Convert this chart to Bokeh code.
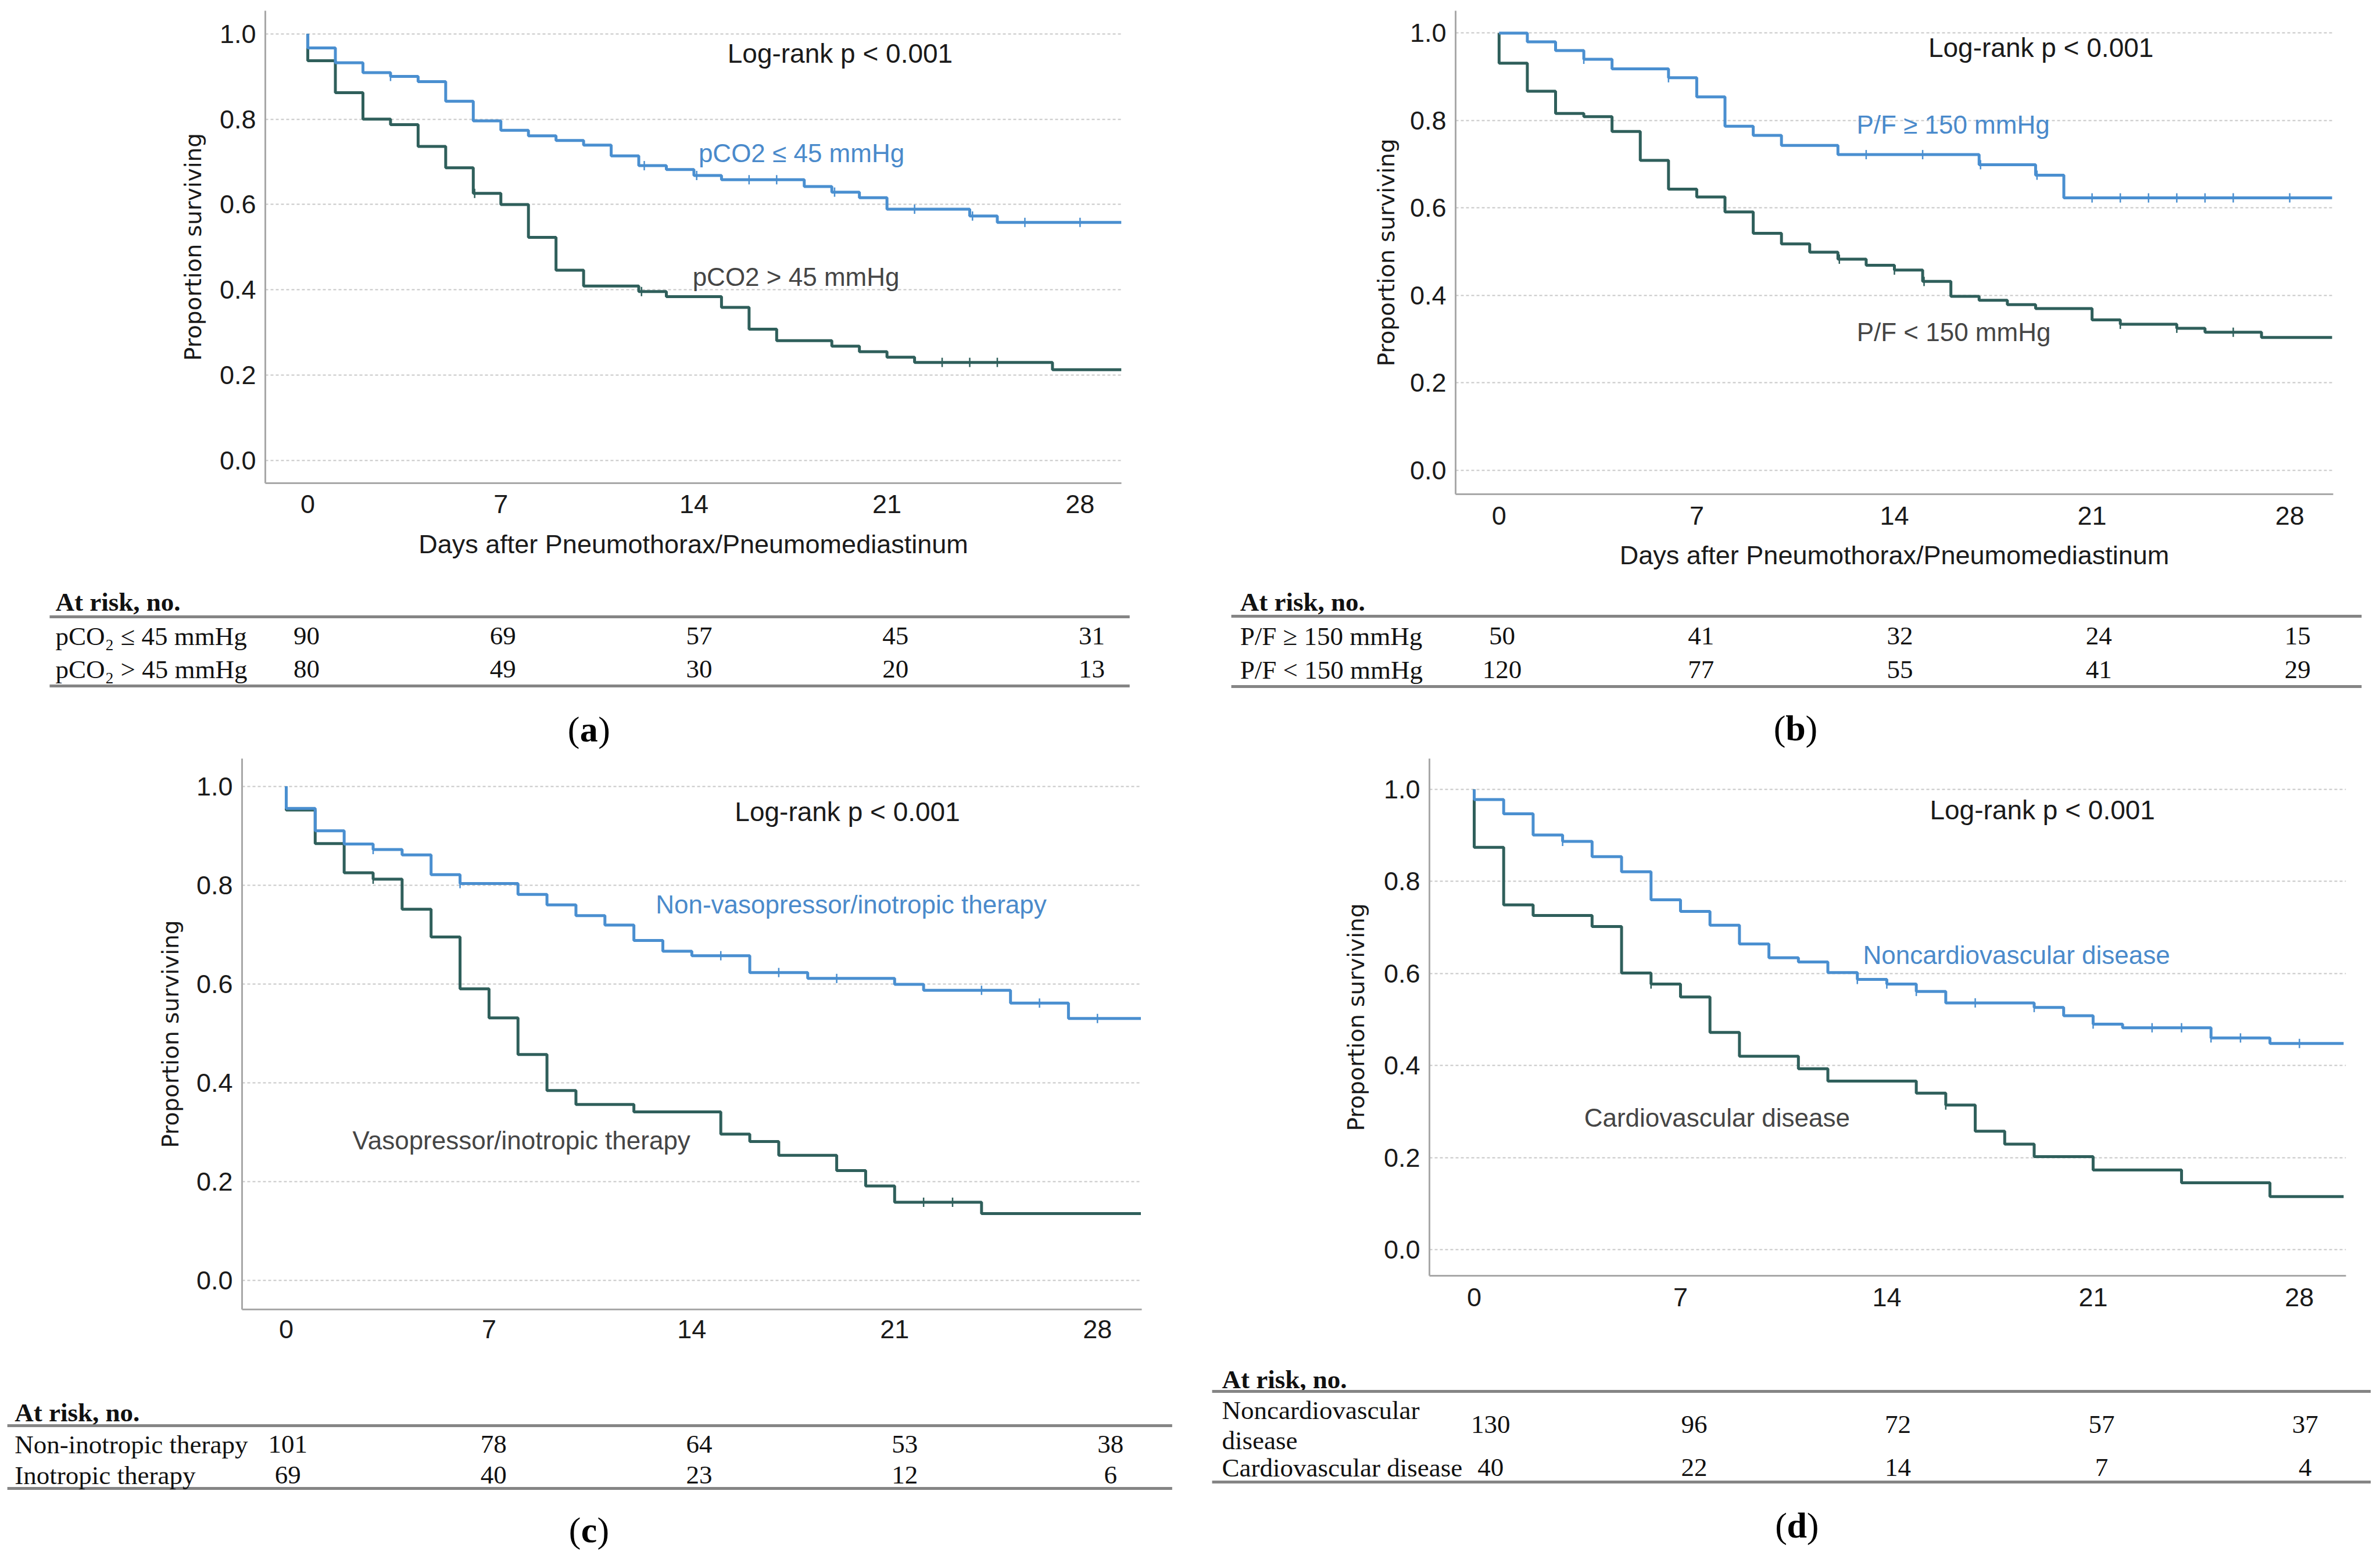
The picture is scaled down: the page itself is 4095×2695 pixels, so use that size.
import math
from bokeh.plotting import figure
from bokeh.models import Range1d, FixedTicker, PrintfTickFormatter
from bokeh.layouts import row, column
from bokeh.core.properties import value
from bokeh.embed import file_html
from bokeh.resources import INLINE

# ---------------- data ----------------
x_ticks = [0, 7, 14, 21, 28]
y_ticks = [0.0, 0.2, 0.4, 0.6, 0.8, 1.0]
risk_days = [0, 7, 14, 21, 28]

# (a) pCO2
a_hi_t = [0, 0, 1, 2, 3, 4, 5, 6, 7, 8, 9, 10, 11, 12, 13, 14, 15, 18, 19, 20, 21, 24, 25, 29.5]
a_hi_s = [1.0, 0.967, 0.932, 0.909, 0.900, 0.888, 0.842, 0.796, 0.774, 0.761, 0.750, 0.739, 0.714,
          0.691, 0.682, 0.668, 0.658, 0.642, 0.629, 0.616, 0.589, 0.573, 0.558, 0.558]
a_hi_cens = [3.0, 12.2, 14.1, 16, 17, 19.1, 22, 24.1, 26, 28]
a_lo_t = [0, 0, 1, 2, 3, 4, 5, 6, 7, 8, 9, 10, 12, 13, 15, 16, 17, 19, 20, 21, 22, 27, 29.5]
a_lo_s = [1.0, 0.937, 0.862, 0.800, 0.787, 0.736, 0.686, 0.626, 0.600, 0.523, 0.446, 0.409, 0.396,
          0.384, 0.359, 0.308, 0.281, 0.268, 0.255, 0.242, 0.230, 0.213, 0.213]
a_lo_cens = [6.05, 12.1, 23, 24, 25]
a_labels = ["pCO2 \u2264 45 mmHg", "pCO2 > 45 mmHg"]
a_rows = ["pCO\u2082 \u2264 45 mmHg", "pCO\u2082 > 45 mmHg"]
a_risk_hi = [90, 69, 57, 45, 31]
a_risk_lo = [80, 49, 30, 20, 13]

# (b) P/F
b_hi_t = [0, 1, 2, 3, 4, 6, 7, 8, 9, 10, 12, 17, 19, 20, 29.5]
b_hi_s = [1.0, 0.980, 0.960, 0.940, 0.918, 0.898, 0.854, 0.787, 0.766, 0.743, 0.722, 0.699, 0.675, 0.623, 0.623]
b_hi_cens = [3, 6, 13, 15, 17.05, 19.05, 21, 22, 23, 24, 25, 26, 28]
b_lo_t = [0, 0, 1, 2, 3, 4, 5, 6, 7, 8, 9, 10, 11, 12, 13, 14, 15, 16, 17, 18, 19, 21, 22, 24, 25, 27, 29.5]
b_lo_s = [1.0, 0.931, 0.867, 0.816, 0.809, 0.775, 0.709, 0.643, 0.625, 0.591, 0.542, 0.518, 0.499, 0.483,
          0.469, 0.458, 0.432, 0.398, 0.389, 0.379, 0.370, 0.344, 0.334, 0.325, 0.316, 0.304, 0.304]
b_lo_cens = [12.05, 14, 15.05, 22, 24, 26]
b_labels = ["P/F \u2265 150 mmHg", "P/F < 150 mmHg"]
b_rows = ["P/F \u2265 150 mmHg", "P/F < 150 mmHg"]
b_risk_hi = [50, 41, 32, 24, 15]
b_risk_lo = [120, 77, 55, 41, 29]

# (c) vasopressor / inotropic therapy
c_hi_t = [0, 0, 1, 2, 3, 4, 5, 6, 8, 9, 10, 11, 12, 13, 14, 16, 18, 21, 22, 25, 27, 29.5]
c_hi_s = [1.0, 0.955, 0.910, 0.883, 0.872, 0.861, 0.821, 0.803, 0.781, 0.760, 0.738, 0.719, 0.688,
          0.666, 0.657, 0.623, 0.611, 0.599, 0.587, 0.561, 0.530, 0.530]
c_hi_cens = [3, 6, 15, 17, 19, 24, 26, 28]
c_lo_t = [0, 0, 1, 2, 3, 4, 5, 6, 7, 8, 9, 10, 12, 15, 16, 17, 19, 20, 21, 24, 29.5]
c_lo_s = [1.0, 0.952, 0.884, 0.825, 0.812, 0.751, 0.695, 0.590, 0.531, 0.457, 0.384, 0.356, 0.341,
          0.296, 0.281, 0.253, 0.222, 0.191, 0.158, 0.135, 0.135]
c_lo_cens = [3, 22, 23]
c_labels = ["Non-vasopressor/inotropic therapy", "Vasopressor/inotropic therapy"]
c_rows = ["Non-inotropic therapy", "Inotropic therapy"]
c_risk_hi = [101, 78, 64, 53, 38]
c_risk_lo = [69, 40, 23, 12, 6]

# (d) cardiovascular disease
d_hi_t = [0, 0, 1, 2, 3, 4, 5, 6, 7, 8, 9, 10, 11, 12, 13, 14, 15, 16, 19, 20, 21, 22, 25, 27, 29.5]
d_hi_s = [1.0, 0.978, 0.947, 0.901, 0.887, 0.854, 0.821, 0.760, 0.735, 0.705, 0.664, 0.634, 0.625,
          0.602, 0.587, 0.577, 0.561, 0.536, 0.526, 0.508, 0.490, 0.482, 0.460, 0.448, 0.448]
d_hi_cens = [3, 13, 14, 15, 17, 19, 21, 23, 24, 25, 26, 28]
d_lo_t = [0, 0, 1, 2, 4, 5, 6, 7, 8, 9, 11, 12, 15, 16, 17, 18, 19, 21, 24, 27, 29.5]
d_lo_s = [1.0, 0.874, 0.749, 0.726, 0.702, 0.601, 0.577, 0.549, 0.472, 0.420, 0.393, 0.366, 0.340,
          0.314, 0.257, 0.229, 0.202, 0.173, 0.145, 0.115, 0.115]
d_lo_cens = [6, 16]
d_labels = ["Noncardiovascular disease", "Cardiovascular disease"]
d_rows = ["Noncardiovascular", "disease", "Cardiovascular disease"]
d_risk_hi = [130, 96, 72, 57, 37]
d_risk_lo = [40, 22, 14, 7, 4]

logrank = "Log-rank p < 0.001"
x_title = "Days after Pneumothorax/Pneumomediastinum"
y_title = "Proportion surviving"
risk_header = "At risk, no."

# ---------------- style ----------------
BLUE = "#4a8fd0"
DARK = "#2f5f5b"
BLUE_TXT = "#4a8acb"
DARK_TXT = "#454545"
SANS = "Liberation Sans"
SERIF = "Liberation Serif"
TAB_FS = "45px"


def step_at(ts, ss, day):
    v = ss[0]
    for t, s in zip(ts, ss):
        if t <= day:
            v = s
    return v


def km_fig(width, height, borders, xr, yr, xlabel, ylab_stand, xtick_stand, xlab_stand,
           hi, lo, labels, label_pos, lr_pos):
    p = figure(width=width, height=height, x_range=Range1d(*xr), y_range=Range1d(*yr),
               output_backend="svg", toolbar_location=None,
               min_border_left=borders[0], min_border_right=borders[1],
               min_border_top=borders[2], min_border_bottom=borders[3])
    p.outline_line_color = None
    p.background_fill_color = "white"
    p.border_fill_color = "white"
    p.xgrid.visible = False
    p.ygrid.ticker = FixedTicker(ticks=y_ticks)
    p.ygrid.grid_line_color = "#c8c8c8"
    p.ygrid.grid_line_width = 2
    p.ygrid.grid_line_dash = "5 4"
    p.xaxis.ticker = FixedTicker(ticks=x_ticks)
    p.yaxis.ticker = FixedTicker(ticks=y_ticks)
    p.yaxis.formatter = PrintfTickFormatter(format="%.1f")
    for ax in (p.xaxis[0], p.yaxis[0]):
        ax.axis_line_color = "#a8a8a8"
        ax.axis_line_width = 3
        ax.major_tick_line_color = None
        ax.minor_tick_line_color = None
        ax.major_label_text_font = SANS
        ax.major_label_text_font_size = "45px"
        ax.major_label_text_color = "#1a1a1a"
    p.yaxis.major_label_standoff = 10
    p.xaxis.major_label_standoff = xtick_stand
    p.yaxis.axis_label = y_title
    p.yaxis.axis_label_text_font = "DejaVu Sans"
    p.yaxis.axis_label_text_font_size = "39px"
    p.yaxis.axis_label_text_font_style = "normal"
    p.yaxis.axis_label_text_color = "#1a1a1a"
    p.yaxis.axis_label_standoff = ylab_stand
    if xlabel:
        p.xaxis.axis_label = x_title
        p.xaxis.axis_label_text_font = SANS
        p.xaxis.axis_label_text_font_size = "45px"
        p.xaxis.axis_label_text_font_style = "normal"
        p.xaxis.axis_label_text_color = "#1a1a1a"
        p.xaxis.axis_label_standoff = xlab_stand

    for (ts, ss, cens), col in ((lo, DARK), (hi, BLUE)):
        p.step(ts, ss, mode="after", line_color=col, line_width=5)
        cy = [step_at(ts, ss, d) for d in cens]
        p.scatter(cens, cy, marker="dash", angle=math.pi / 2, size=16,
                  line_color=col, line_width=2.5)

    p.text(x=[lr_pos[0]], y=[lr_pos[1]], text=[logrank], text_font=value(SANS),
           text_font_size="46px", text_align="center", text_baseline="middle",
           text_color="#1a1a1a")
    p.text(x=[label_pos[0][0]], y=[label_pos[0][1]], text=[labels[0]], text_font=value(SANS),
           text_font_size="44px", text_align="center", text_baseline="middle",
           text_color=BLUE_TXT)
    p.text(x=[label_pos[1][0]], y=[label_pos[1][1]], text=[labels[1]], text_font=value(SANS),
           text_font_size="44px", text_align="center", text_baseline="middle",
           text_color=DARK_TXT)
    return p


def table_fig(width, height, xr, rule_x, label_x, rows_y, rows, risk_hi, risk_lo,
              num_y, letter, letter_pos, letter_off):
    p = figure(width=width, height=height, x_range=Range1d(*xr), y_range=Range1d(height, 0),
               output_backend="svg", toolbar_location=None, min_border=0,
               min_border_left=0, min_border_right=0, min_border_top=0, min_border_bottom=0,
               x_axis_type=None, y_axis_type=None)
    p.outline_line_color = None
    p.grid.visible = False
    header_y, rule1_y, rule2_y = rows_y
    p.text(x=[label_x], y=[header_y], text=[risk_header], text_font=value(SERIF),
           text_font_size=TAB_FS, text_font_style="bold", text_align="left",
           text_baseline="middle", text_color="#111111")
    p.segment(x0=[rule_x[0], rule_x[0]], y0=[rule1_y, rule2_y],
              x1=[rule_x[1], rule_x[1]], y1=[rule1_y, rule2_y],
              line_color="#858585", line_width=5)
    p.text(x=[label_x] * len(rows), y=num_y[2], text=rows, text_font=value(SERIF),
           text_font_size=TAB_FS, text_align="left", text_baseline="middle",
           text_color="#111111")
    p.text(x=risk_days, y=[num_y[0]] * 5, text=[str(v) for v in risk_hi], text_font=value(SERIF),
           text_font_size=TAB_FS, text_align="center", text_baseline="middle",
           text_color="#111111")
    p.text(x=risk_days, y=[num_y[1]] * 5, text=[str(v) for v in risk_lo], text_font=value(SERIF),
           text_font_size=TAB_FS, text_align="center", text_baseline="middle",
           text_color="#111111")
    lx, ly = letter_pos
    p.text(x=[lx], y=[ly], text=["("], text_font=value(SERIF), text_font_size="62px",
           text_align="right", text_baseline="middle", x_offset=-letter_off, text_color="#000000")
    p.text(x=[lx], y=[ly], text=[letter], text_font=value(SERIF), text_font_size="62px",
           text_font_style="bold", text_align="center", text_baseline="middle", text_color="#000000")
    p.text(x=[lx], y=[ly], text=[")"], text_font=value(SERIF), text_font_size="62px",
           text_align="left", text_baseline="middle", x_offset=letter_off, text_color="#000000")
    return p


# ---------------- panels ----------------
# Plots in the same row get equal top/bottom borders; frame sizes differ through heights.
kmA = km_fig(2032, 983, (456, 103, 18, 152), (-1.54, 29.5), (-0.053, 1.054), True, 20, 14, 25,
             (a_hi_t, a_hi_s, a_hi_cens), (a_lo_t, a_lo_s, a_lo_cens), a_labels,
             ((17.9, 0.721), (17.7, 0.431)), (19.3, 0.954))
kmB = km_fig(2047, 1002, (472, 65, 18, 152), (-1.54, 29.54), (-0.0545, 1.051), True, 15, 15, 24,
             (b_hi_t, b_hi_s, b_hi_cens), (b_lo_t, b_lo_s, b_lo_cens), b_labels,
             ((16.08, 0.790), (16.1, 0.316)), (19.19, 0.966))
tabA = table_fig(2032, 290, (-10.92, 31.19), (-9.16, 29.35), -8.95, (33, 59, 178),
                 a_rows, a_risk_hi, a_risk_lo, (92, 149, [92, 149]), "a", (10.07, 252), 16)
tabB = table_fig(2047, 290, (-11.29, 30.58), (-9.53, 30.25), -9.22, (33, 58, 179),
                 b_rows, b_risk_hi, b_risk_lo, (92, 150, [92, 150]), "b", (10.33, 250), 17)

kmC = km_fig(2032, 1049, (416, 68, 13, 88), (-1.524, 29.53), (-0.059, 1.056), False, 19, 12, 0,
             (c_hi_t, c_hi_s, c_hi_cens), (c_lo_t, c_lo_s, c_lo_cens), c_labels,
             ((19.5, 0.761), (8.12, 0.283)), (19.37, 0.948))
kmD = km_fig(2047, 991, (427, 43, 13, 88), (-1.518, 29.58), (-0.057, 1.067), False, 22, 15, 0,
             (d_hi_t, d_hi_s, d_hi_cens), (d_lo_t, d_lo_s, d_lo_cens), d_labels,
             ((18.4, 0.640), (8.24, 0.287)), (19.28, 0.955))
tabC = table_fig(2032, 338, (-9.79, 30.41), (-9.55, 30.1), -9.3, (89, 112, 220),
                 c_rows, c_risk_hi, c_risk_lo, (144, 197, [144, 197]), "c", (10.25, 291), 14)
tabD = table_fig(2047, 338, (-10.63, 30.26), (-9.57, 30.26), -9.23, (32, 53, 209),
                 d_rows, d_risk_hi, d_risk_lo, (110, 184, [85, 137, 184]), "d", (10.53, 283), 17)

layout = column(row(kmA, kmB), row(tabA, tabB), row(kmC, kmD), row(tabC, tabD))

open("out.html", "w").write(file_html(layout, INLINE))
